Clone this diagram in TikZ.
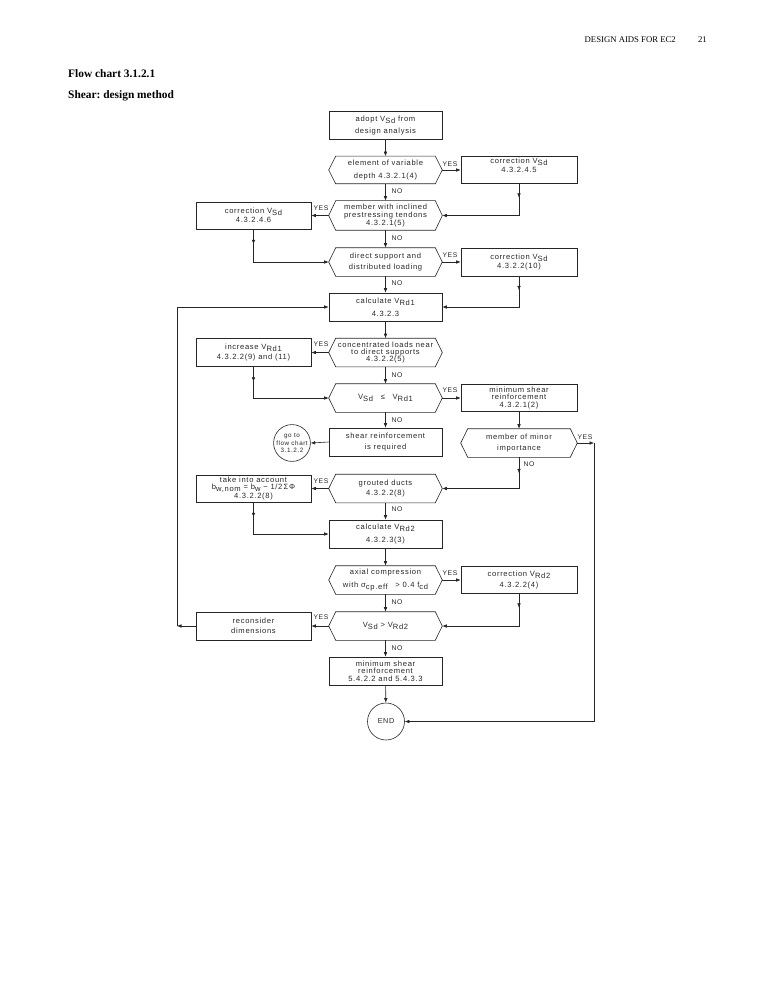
\documentclass[tikz,border=0pt]{standalone}
\usepackage{fontspec}
\setmainfont{Liberation Serif}
\newfontfamily\cad[LetterSpace=9]{Liberation Sans}
\usetikzlibrary{arrows.meta,calc}
\newcommand\lo[1]{\raisebox{-0.5ex}{#1}}
\frenchspacing
\begin{document}
\begin{tikzpicture}[x=1pt,y=-1pt,
  ln/.style={draw=black!85,line width=0.6pt},
  arr/.style={ln,-{Latex[length=4.5pt,width=3.6pt]}},
  box/.style={draw=black!85,line width=0.6pt,rectangle,minimum width=113pt,minimum height=28pt,
    inner sep=0pt,align=center,font=\cad\fontsize{7.6}{8.6}\selectfont,text=black!85},
  hexbox/.style={box,draw=none},
  lbox/.style={box,minimum width=115pt},
  rbox/.style={box,minimum width=116pt},
  rnd/.style={circle,draw=black!85,line width=0.6pt,inner sep=0pt,align=center,text=black!85},
  yn/.style={font=\cad\fontsize{6.8}{7}\selectfont,text=black!85,inner sep=0pt}]
\useasboundingbox (0,0) rectangle (772,1000);
% header
\node[anchor=base east,inner sep=0pt,font=\fontsize{8.7}{10}\selectfont] (hdr) at (676,43) {DESIGN AIDS FOR EC2};
\node[anchor=base east,inner sep=0pt,font=\fontsize{8.7}{10}\selectfont] (pg) at (707,43) {21};
\node[anchor=base west,inner sep=0pt,font=\bfseries\fontsize{11.4}{13}\selectfont] (t1) at (68,78) {Flow chart 3.1.2.1};
\node[anchor=base west,inner sep=0pt,font=\bfseries\fontsize{11.4}{13}\selectfont] (t2) at (68,99) {Shear: design method};
% nodes
\node[box] (adopt) at (385.5,125.5) {adopt V\lo{Sd} from\\[2.5pt]design analysis};
\node[hexbox,minimum height=27pt] (elem) at (385.5,170) {element of variable\\[4.5pt]depth 4.3.2.1(4)};
\node[rbox,minimum height=27pt] (corr1) at (519,170) {correction V\lo{Sd}\\[0.5pt]4.3.2.4.5\\[1pt]};
\node[hexbox,minimum height=29pt] (member) at (385.5,215.5) {member with inclined\\[-1pt]prestressing tendons\\[-1pt]4.3.2.1(5)};
\node[lbox,minimum height=27pt] (corrL1) at (253.5,215.5) {correction V\lo{Sd}\\[0.5pt]4.3.2.4.6};
\node[hexbox] (direct) at (385.5,262) {direct support and\\[3pt]distributed loading};
\node[rbox] (corr3) at (519,262) {correction V\lo{Sd}\\[0.5pt]4.3.2.2(10)};
\node[box] (calc1) at (385.5,307) {calculate V\lo{Rd1}\\[4pt]4.3.2.3};
\node[hexbox] (conc) at (385.5,352.5) {concentrated loads near\\[-1.5pt]to direct supports\\[-1.5pt]4.3.2.2(5)};
\node[lbox] (incr) at (253.5,352.5) {increase V\lo{Rd1}\\[1.5pt]4.3.2.2(9) and (11)};
\node[hexbox] (le) at (385.5,398) {V\lo{Sd}\quad ≤\quad V\lo{Rd1}};
\node[rbox,minimum height=27pt] (min1) at (519,398) {minimum shear\\[-1.5pt]reinforcement\\[-1.5pt]4.3.2.1(2)};
\node[box] (shreq) at (385.5,442) {shear reinforcement\\[3pt]is required};
\node[rnd,minimum size=36pt,font=\cad\fontsize{6.3}{8}\selectfont] (goto) at (292,443) {go to\\[-0.5pt]flow chart\\[-0.5pt]3.1.2.2};
\node[hexbox,minimum width=116pt] (minor) at (519,443) {member of minor\\[1.5pt]importance};
\node[hexbox] (grout) at (385.5,488.5) {grouted ducts\\[2pt]4.3.2.2(8)};
\node[lbox,minimum height=27pt] (take) at (253.5,488.5) {take into account\\[-1.5pt]b\lo{w,nom} = b\lo{w} − 1/2\,ΣΦ\\[1pt]4.3.2.2(8)};
\node[box] (calc2) at (385.5,534) {calculate V\lo{Rd2}\\[4pt]4.3.2.3(3)};
\node[hexbox] (axial) at (385.5,580) {axial compression\\[3.5pt]with σ\lo{cp.eff}\quad > 0.4 f\lo{cd}};
\node[rbox,minimum height=27pt] (corrR2) at (519,580) {correction V\lo{Rd2}\\[2.5pt]4.3.2.2(4)};
\node[hexbox] (gt) at (385.5,626) {V\lo{Sd} > V\lo{Rd2}};
\node[lbox] (recon) at (253.5,626) {reconsider\\[1pt]dimensions};
\node[box] (min2) at (385.5,671) {minimum shear\\[-1.5pt]reinforcement\\[-1pt]5.4.2.2 and 5.4.3.3};
\node[rnd,minimum size=37pt,font=\cad\fontsize{7.2}{8.5}\selectfont] (end) at (386,721.5) {END};
% hexagon outlines
\foreach \n in {elem,member,direct,conc,le,minor,grout,axial,gt}
  \draw[ln] (\n.west) -- ([xshift=7pt]\n.north west) -- ([xshift=-7pt]\n.north east)
    -- (\n.east) -- ([xshift=-7pt]\n.south east) -- ([xshift=7pt]\n.south west) -- cycle;
\coordinate (cl) at (177,626);
\coordinate (cr) at (594,443);
% connectors main column
\draw[arr] (adopt) -- (elem);
\draw[arr] (elem) -- (member);
\draw[arr] (member) -- (direct);
\draw[arr] (direct) -- (calc1);
\draw[arr] (calc1) -- (conc);
\draw[arr] (conc) -- (le);
\draw[arr] (le) -- (shreq);
\draw[arr] (grout) -- (calc2);
\draw[arr] (calc2) -- (axial);
\draw[arr] (axial) -- (gt);
\draw[arr] (gt) -- (min2);
\draw[arr] (min2) -- (end);
% yes branches
\draw[arr] (elem.east) -- (corr1.west);
\draw[arr] (member.west) -- (corrL1.east);
\draw[arr] (direct.east) -- (corr3.west);
\draw[arr] (conc.west) -- (incr.east);
\draw[arr] (le.east) -- (min1.west);
\draw[arr] (shreq.west) -- (goto.east);
\draw[arr] (grout.west) -- (take.east);
\draw[arr] (axial.east) -- (corrR2.west);
\draw[arr] (gt.west) -- (recon.east);
\draw[arr] (min1) -- (minor);
% returns
\draw[arr] (corr1.south) -- ++(0,14);
\draw[arr] (corr1.south) |- (member.east);
\draw[arr] (corrL1.south) -- ++(0,15);
\draw[arr] (corrL1.south) |- (direct.west);
\draw[arr] (corr3.south) -- ++(0,14);
\draw[arr] (corr3.south) |- (calc1.east);
\draw[arr] (incr.south) -- ++(0,15);
\draw[arr] (incr.south) |- (le.west);
\draw[arr] (minor.south) -- ++(0,16);
\draw[arr] (minor.south) |- (grout.east);
\draw[arr] (take.south) -- ++(0,15);
\draw[arr] (take.south) |- (calc2.west);
\draw[arr] (corrR2.south) -- ++(0,14);
\draw[arr] (corrR2.south) |- (gt.east);
\draw[arr] (recon.west) -- (cl);
\draw[arr] (cl) |- (calc1.west);
\draw[arr] (minor.east) -- (cr);
\draw[arr] (cr) |- (end.east);
% labels
\node[yn] (y1) at (450,164) {YES};
\node[yn] (n1) at (397,191) {NO};
\node[yn] (y2) at (321,208) {YES};
\node[yn] (n2) at (397,238) {NO};
\node[yn] (y3) at (450,255) {YES};
\node[yn] (n3) at (397,283) {NO};
\node[yn] (y4) at (321,344) {YES};
\node[yn] (n4) at (397,375) {NO};
\node[yn] (y5) at (450,390) {YES};
\node[yn] (n5) at (397,420) {NO};
\node[yn] (y6) at (585,437) {YES};
\node[yn] (n6) at (529,464) {NO};
\node[yn] (y7) at (321,481) {YES};
\node[yn] (n7) at (397,509) {NO};
\node[yn] (y8) at (450,573) {YES};
\node[yn] (n8) at (397,602) {NO};
\node[yn] (y9) at (321,617) {YES};
\node[yn] (n9) at (397,648) {NO};
\end{tikzpicture}
\end{document}
